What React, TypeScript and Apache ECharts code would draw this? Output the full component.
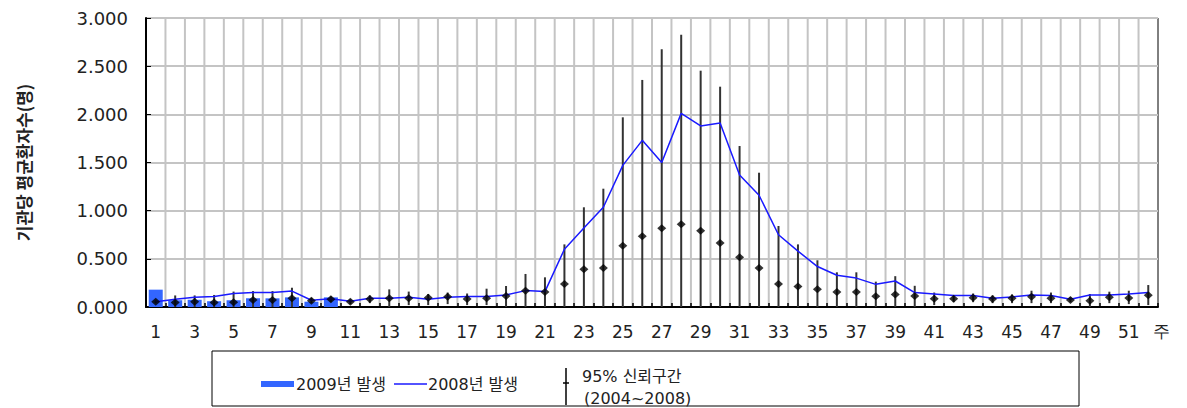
import React, { useEffect, useRef } from "react";
import * as echarts from "echarts";

const weeks = [
  "1", "2", "3", "4", "5", "6", "7", "8", "9", "10",
  "11", "12", "13", "14", "15", "16", "17", "18", "19", "20",
  "21", "22", "23", "24", "25", "26", "27", "28", "29", "30",
  "31", "32", "33", "34", "35", "36", "37", "38", "39", "40",
  "41", "42", "43", "44", "45", "46", "47", "48", "49", "50",
  "51", "52",
];

const cases2009 = [0.18, 0.07, 0.075, 0.06, 0.07, 0.09, 0.09, 0.1, 0.055, 0.1];

const cases2008 = [
  0.055, 0.08, 0.1, 0.11, 0.14, 0.15, 0.15, 0.165, 0.07, 0.085,
  0.06, 0.09, 0.09, 0.1, 0.08, 0.1, 0.11, 0.11, 0.125, 0.17,
  0.16, 0.6, 0.82, 1.035, 1.47, 1.73, 1.5, 2.01, 1.88, 1.91,
  1.37, 1.16, 0.75, 0.58, 0.42, 0.33, 0.3, 0.235, 0.27, 0.15,
  0.135, 0.12, 0.12, 0.09, 0.105, 0.125, 0.12, 0.08, 0.125, 0.125,
  0.135, 0.15,
];

const ciMean = [
  0.055, 0.048, 0.055, 0.048, 0.05, 0.073, 0.073, 0.09, 0.066, 0.08,
  0.055, 0.083, 0.09, 0.09, 0.097, 0.107, 0.083, 0.09, 0.114, 0.169,
  0.156, 0.239, 0.391, 0.405, 0.636, 0.734, 0.817, 0.858, 0.792, 0.664,
  0.516, 0.405, 0.239, 0.213, 0.183, 0.156, 0.156, 0.111, 0.131, 0.114,
  0.086, 0.086, 0.095, 0.083, 0.09, 0.107, 0.09, 0.073, 0.066, 0.1,
  0.093, 0.121,
];

const ciUpper = [
  0.07, 0.12, 0.12, 0.125, 0.16, 0.165, 0.165, 0.2, 0.095, 0.11,
  0.08, 0.12, 0.183, 0.16, 0.135, 0.15, 0.14, 0.19, 0.218, 0.343,
  0.308, 0.65, 1.035, 1.228, 1.969, 2.357, 2.675, 2.827, 2.453, 2.287,
  1.671, 1.394, 0.841, 0.65, 0.485, 0.36, 0.36, 0.263, 0.32, 0.22,
  0.15, 0.12, 0.14, 0.12, 0.13, 0.169, 0.15, 0.1, 0.135, 0.159,
  0.169, 0.228,
];

const ciLower = [
  0.04, 0.0, 0.0, 0.0, 0.0, 0.0, 0.0, 0.0, 0.04, 0.05,
  0.03, 0.04, 0.0, 0.02, 0.02, 0.03, 0.02, 0.02, 0.0, 0.0,
  0.0, 0.0, 0.0, 0.0, 0.0, 0.0, 0.0, 0.0, 0.0, 0.0,
  0.0, 0.0, 0.0, 0.0, 0.0, 0.0, 0.0, 0.0, 0.0, 0.0,
  0.02, 0.05, 0.05, 0.04, 0.04, 0.04, 0.04, 0.05, 0.0, 0.04,
  0.03, 0.02,
];

const yTicks = { min: 0, max: 3, interval: 0.5 };

const NUM_FONT = "'DejaVu Sans', 'Noto Sans CJK KR', sans-serif";
const KR_FONT = "'DejaVu Sans', 'Noto Sans CJK KR', sans-serif";
const GRID_COLOR = "#c4c4c4";

export default function App() {
  const ref = useRef<HTMLDivElement>(null);

  useEffect(() => {
    if (!ref.current) return;
    const chart = echarts.init(ref.current, undefined, { renderer: "svg" });

    const errData = weeks.map((w, i) => [i, ciLower[i], ciUpper[i]]);
    const gridData = weeks.map((w, i) => [i]);

    chart.setOption({
      animation: false,
      backgroundColor: "#ffffff",
      grid: {
        left: 146,
        right: 29,
        top: 18,
        bottom: 101,
        show: true,
        borderColor: "#000",
        borderWidth: 1,
      },
      xAxis: {
        type: "category",
        data: weeks,
        boundaryGap: true,
        position: "bottom",
        axisLine: { show: true, lineStyle: { color: "#000", width: 2 } },
        axisTick: { show: true, inside: true, interval: 0, length: 4, lineStyle: { color: "#000", width: 1.5 } },
        splitLine: { show: false },
        axisLabel: {
          interval: 1,
          margin: 16,
          fontSize: 17,
          color: "#222",
          fontFamily: NUM_FONT,
        },
        z: 3,
      },
      yAxis: {
        type: "value",
        min: yTicks.min,
        max: yTicks.max,
        interval: yTicks.interval,
        name: "기관당 평균환자수(명)",
        nameLocation: "middle",
        nameRotate: 90,
        nameGap: 114,
        nameTextStyle: {
          fontSize: 17,
          fontWeight: "bold",
          color: "#222",
          fontFamily: "'Noto Sans CJK KR', sans-serif",
        },
        axisLine: { show: true, lineStyle: { color: "#000", width: 2 } },
        axisTick: { show: true, inside: true, length: 5, lineStyle: { color: "#000" } },
        splitLine: { show: true, lineStyle: { color: GRID_COLOR, width: 2 } },
        axisLabel: {
          margin: 18,
          fontSize: 18,
          color: "#222",
          fontFamily: NUM_FONT,
          formatter: (v: number) => v.toFixed(3),
        },
        z: 3,
      },
      series: [
        {
          name: "세로 격자",
          type: "custom",
          data: gridData,
          encode: { x: 0 },
          silent: true,
          z: 1,
          renderItem: (params: any, api: any) => {
            const i = api.value(0);
            const bottom = api.coord([i, yTicks.min]);
            const top = api.coord([i, yTicks.max]);
            const w = api.size([1, 0])[0];
            const xl = bottom[0] - w / 2;
            const children: any[] = [
              {
                type: "line",
                shape: { x1: xl, y1: bottom[1], x2: xl, y2: top[1] },
                style: { stroke: GRID_COLOR, lineWidth: 2 },
              },
            ];
            return { type: "group", children };
          },
        },
        {
          name: "2009년 발생",
          type: "bar",
          data: cases2009,
          barWidth: "72%",
          itemStyle: { color: "#3366ff" },
          z: 3,
        },
        {
          name: "95% 신뢰구간 (2004~2008)",
          type: "custom",
          data: errData,
          encode: { x: 0, y: [1, 2] },
          z: 4,
          renderItem: (params: any, api: any) => {
            const x = api.value(0);
            const p1 = api.coord([x, api.value(1)]);
            const p2 = api.coord([x, api.value(2)]);
            return {
              type: "line",
              shape: { x1: p1[0], y1: p1[1], x2: p2[0], y2: p2[1] },
              style: { stroke: "#333333", lineWidth: 2 },
            };
          },
        },
        {
          name: "2008년 발생",
          type: "line",
          data: cases2008,
          symbol: "none",
          lineStyle: { color: "#1a1aff", width: 1.5 },
          z: 5,
        },
        {
          name: "평균 (2004~2008)",
          type: "scatter",
          data: ciMean,
          symbol: "diamond",
          symbolSize: [9, 8],
          itemStyle: { color: "#000" },
          z: 6,
        },
      ],
      graphic: [
        {
          type: "text",
          left: 1153,
          top: 323,
          style: { text: "주", fontSize: 17, fill: "#222", font: "17px 'Noto Sans CJK KR', sans-serif" },
        },
        {
          type: "rect",
          shape: { x: 212, y: 351, width: 867, height: 55 },
          style: { fill: "none", stroke: "#000", lineWidth: 1 },
        },
        {
          type: "rect",
          shape: { x: 261, y: 381, width: 33, height: 6 },
          style: { fill: "#3366ff" },
        },
        {
          type: "text",
          x: 296,
          y: 384,
          style: { text: "2009년 발생", fontSize: 16, fill: "#222", fontFamily: KR_FONT, verticalAlign: "middle" },
        },
        {
          type: "line",
          shape: { x1: 394, y1: 384, x2: 427, y2: 384 },
          style: { stroke: "#1a1aff", lineWidth: 1.5 },
        },
        {
          type: "text",
          x: 428,
          y: 384,
          style: { text: "2008년 발생", fontSize: 16, fill: "#222", fontFamily: KR_FONT, verticalAlign: "middle" },
        },
        {
          type: "line",
          shape: { x1: 566, y1: 368, x2: 566, y2: 405 },
          style: { stroke: "#000", lineWidth: 1.5 },
        },
        {
          type: "line",
          shape: { x1: 563, y1: 383, x2: 569, y2: 383 },
          style: { stroke: "#000", lineWidth: 1.5 },
        },
        {
          type: "text",
          x: 582,
          y: 376,
          style: { text: "95% 신뢰구간", fontSize: 16, fill: "#222", fontFamily: KR_FONT, verticalAlign: "middle" },
        },
        {
          type: "text",
          x: 584,
          y: 398,
          style: { text: "(2004~2008)", fontSize: 16, fill: "#222", fontFamily: KR_FONT, verticalAlign: "middle" },
        },
      ],
    });

    return () => {
      chart.dispose();
    };
  }, []);

  return (
    <div
      ref={ref}
      style={{ position: "fixed", left: 0, top: 0, width: 1187, height: 408, background: "#fff" }}
    />
  );
}
